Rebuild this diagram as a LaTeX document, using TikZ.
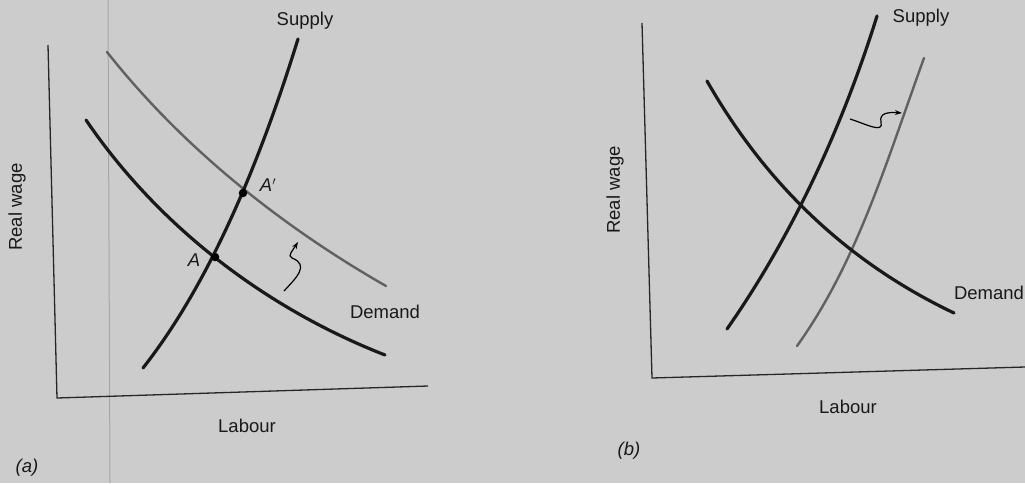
\documentclass[tikz,border=0pt]{standalone}
\usepackage{fontspec}
\setmainfont{Liberation Sans}
\usetikzlibrary{arrows.meta}
\begin{document}
\begin{tikzpicture}[x=1pt,y=-1pt,
  axis/.style={line width=1.3pt,black!85},
  bold/.style={line width=3.2pt,black!90,line cap=round},
  shifted/.style={line width=2.4pt,black!62,line cap=round},
  squig/.style={line width=1.2pt,black,-{Stealth[length=7pt,width=5pt]}},
  lbl/.style={font=\fontsize{18.5}{22}\selectfont,text=black!90,inner sep=0pt},
  ilbl/.style={lbl,font=\fontsize{18.5}{22}\selectfont\itshape},
  pt/.style={circle,fill=black,inner sep=0pt,minimum size=8.5pt}]
\fill[black!20] (0,0) rectangle (1025,483);
\useasboundingbox (0,0) rectangle (1025,483);
% faint scan line
\draw[black!35,line width=1pt] (108,0) -- (110,483);
% ---------- panel (a) ----------
\coordinate (ya) at (48,45);
\coordinate (oa) at (57,398);
\coordinate (xa) at (428,386);
\draw[axis] (ya) -- (oa) -- (xa);
\coordinate (Da1) at (107,52);  \coordinate (Da2) at (386,286);
\coordinate (Db1) at (86,120);  \coordinate (Db2) at (385,355);
\coordinate (Sa1) at (143,368); \coordinate (Sa2) at (298,39);
\draw[shifted] (Da1) .. controls (182,147) and (281,226) .. (Da2);
\draw[bold] (Db1) .. controls (161,230) and (270,310) .. (Db2);
\draw[bold] (Sa1) .. controls (209,284) and (259,165) .. (Sa2);
\node[pt] (A) at (215,257) {};
\node[pt] (Ap) at (243,193) {};
\node[ilbl] (Alab) at (194,260) {A};
\node[ilbl] (Aplab) at (268,185) {A$'$};
\coordinate (qa1) at (284,291); \coordinate (qa2) at (298,242);
\draw[squig] (qa1) .. controls (296,278) and (310,265) .. (292,258)
             .. controls (287,256) and (293,250) .. (qa2);
\node[lbl] (supa) at (305,21) {Supply};
\node[lbl] (dema) at (385,312) {Demand};
\node[lbl] (laba) at (247,426) {Labour};
\node[lbl,rotate=90] (rwa) at (17,207) {Real wage};
\node[ilbl] (pa) at (27,468) {(a)};
% ---------- panel (b) ----------
\coordinate (yb) at (642,23);
\coordinate (ob) at (652,378);
\coordinate (xb) at (1025,367);
\draw[axis] (yb) -- (ob) -- (xb);
\coordinate (Sb1) at (727,329); \coordinate (Sb2) at (877,16);
\coordinate (Sc1) at (797,346); \coordinate (Sc2) at (924,58);
\coordinate (Dc1) at (707,81);  \coordinate (Dc2) at (954,313);
\draw[shifted] (Sc1) .. controls (857,262) and (886,163) .. (Sc2);
\draw[bold] (Sb1) .. controls (792,236) and (842,128) .. (Sb2);
\draw[bold] (Dc1) .. controls (767,186) and (849,263) .. (Dc2);
\coordinate (qb1) at (850,119); \coordinate (qb2) at (902,113);
\draw[squig] (qb1) .. controls (866,124) and (884,134) .. (881,122)
             .. controls (879,113) and (888,112) .. (qb2);
\node[lbl] (supb) at (921,18) {Supply};
\node[lbl] (demb) at (989,293) {Demand};
\node[lbl] (labb) at (848,407) {Labour};
\node[lbl,rotate=90] (rwb) at (615,190) {Real wage};
\node[ilbl] (pb) at (629,451) {(b)};
\end{tikzpicture}
\end{document}
